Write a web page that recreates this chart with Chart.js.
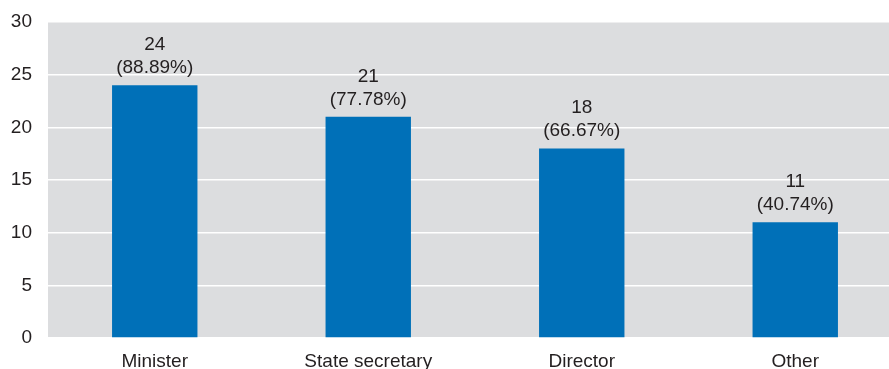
<!DOCTYPE html>
<html>
<head>
<meta charset="utf-8">
<script src="https://cdn.jsdelivr.net/npm/chart.js@4/dist/chart.umd.min.js"></script>
<style>
  html, body { margin: 0; padding: 0; background: #fff; overflow: hidden; }
  #wrap { width: 902px; height: 369px; }
</style>
</head>
<body>
<div id="wrap"><canvas id="chart"></canvas></div>
<script>
const categories = ["Minister", "State secretary", "Director", "Other"];
const counts = [24, 21, 18, 11];
const shares = ["88.89%", "77.78%", "66.67%", "40.74%"];
const yTicks = [0, 5, 10, 15, 20, 25, 30];

const FONT = "'Liberation Sans', Arial, Helvetica, sans-serif";
const TEXT = "#231f20";

// grey panel behind the bars
const panel = {
  id: "panel",
  beforeDraw(chart) {
    const { ctx, chartArea: a } = chart;
    ctx.save();
    ctx.fillStyle = "#dcdddf";
    ctx.fillRect(a.left, a.top, a.right - a.left, a.bottom - a.top);
    ctx.restore();
  }
};

// count and share written above each bar
const barLabels = {
  id: "barLabels",
  afterDatasetsDraw(chart) {
    const { ctx } = chart;
    const meta = chart.getDatasetMeta(0);
    ctx.save();
    ctx.font = "19px " + FONT;
    ctx.fillStyle = TEXT;
    ctx.textAlign = "center";
    ctx.textBaseline = "alphabetic";
    meta.data.forEach((bar, i) => {
      ctx.fillText("(" + shares[i] + ")", bar.x, bar.y - 12);
      ctx.fillText(String(counts[i]), bar.x, bar.y - 35);
    });
    ctx.restore();
  }
};

new Chart(document.getElementById("chart"), {
  type: "bar",
  data: {
    labels: categories,
    datasets: [{
      data: counts,
      backgroundColor: "#0070b8",
      borderWidth: 0,
      barPercentage: 0.4,
      categoryPercentage: 1
    }]
  },
  options: {
    responsive: true,
    maintainAspectRatio: false,
    animation: false,
    layout: { padding: { top: 22, right: 0, left: 0, bottom: 0 } },
    plugins: { legend: { display: false }, tooltip: { enabled: false } },
    scales: {
      x: {
        grid: { display: false },
        border: { display: false },
        ticks: { color: TEXT, font: { family: FONT, size: 19 }, padding: 4 },
        afterFit(scale) { scale.height = 31; scale.paddingLeft = 0; scale.paddingRight = 0; }
      },
      y: {
        min: 0,
        max: 30,
        afterBuildTicks(scale) { scale.ticks = yTicks.map(v => ({ value: v })); },
        grid: { color: "#ffffff", lineWidth: 1.5, drawTicks: false },
        border: { display: false },
        ticks: { color: TEXT, font: { family: FONT, size: 19 }, padding: 16 },
        afterFit(scale) { scale.width = 48; scale.paddingTop = 0; scale.paddingBottom = 0; }
      }
    }
  },
  plugins: [panel, barLabels]
});
</script>
</body>
</html>
